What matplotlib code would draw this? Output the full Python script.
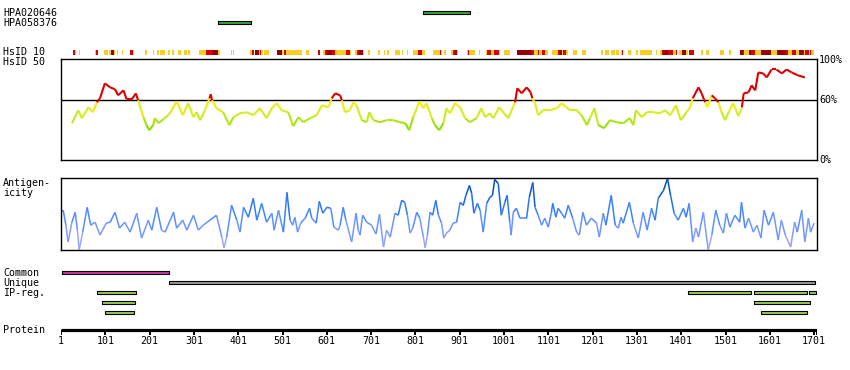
import numpy as np
import matplotlib
matplotlib.use("Agg")
import matplotlib.pyplot as plt
from matplotlib.collections import LineCollection
from matplotlib.colors import LinearSegmentedColormap

# ---- data (residue positions) ----
protein_len = 1707
tick_pos = list(range(1, 1702, 100))

antibodies = ["HPA020646", "HPA058376"]
antibody_spans = [(818, 924), (355, 430)]

common_span = (3, 244)
unique_span = (244, 1702)
ipreg_rows = [
    [(83, 171), (1417, 1558), (1566, 1684), (1690, 1706)],
    [(94, 167), (1566, 1691)],
    [(101, 165), (1580, 1684)],
]

# HsID 10 heat bar: yellow / red / dark red stretches
heat_yellow = [(32, 34), (42, 45), (78, 80), (84, 85), (97, 106), (110, 114), (121, 124),
               (127, 129), (138, 140), (164, 165), (191, 194), (209, 212), (217, 223),
               (225, 236), (242, 246), (252, 256), (264, 273), (279, 285), (288, 293),
               (313, 328), (356, 360), (385, 388), (390, 392), (427, 433), (448, 450),
               (452, 458), (459, 470), (499, 501), (510, 546), (554, 560), (592, 598),
               (619, 644), (653, 655), (665, 670), (683, 685), (694, 699), (717, 722),
               (730, 733), (737, 741), (756, 766), (771, 774), (781, 784), (796, 807),
               (816, 822), (841, 856), (859, 861), (865, 869), (882, 886), (896, 898),
               (917, 920), (923, 936), (944, 947), (961, 963), (972, 978), (989, 993),
               (1002, 1014), (1069, 1078), (1081, 1087), (1093, 1100), (1109, 1123),
               (1132, 1134), (1142, 1146), (1157, 1166), (1177, 1186), (1194, 1195),
               (1220, 1224), (1228, 1237), (1242, 1252), (1254, 1260), (1265, 1267),
               (1269, 1270), (1281, 1288), (1299, 1304), (1309, 1334), (1343, 1346),
               (1353, 1358), (1382, 1389), (1397, 1403), (1412, 1417), (1445, 1451),
               (1458, 1463), (1488, 1497), (1508, 1513), (1543, 1555), (1567, 1580),
               (1603, 1618), (1641, 1651), (1661, 1666), (1679, 1681), (1689, 1692),
               (1694, 1701)]
heat_red = [(27, 32), (80, 84), (157, 164), (328, 342), (433, 436), (450, 452), (504, 510),
            (580, 585), (598, 602), (613, 619), (644, 653), (670, 673), (807, 816),
            (856, 859), (886, 891), (920, 923), (963, 972), (978, 989), (1063, 1069),
            (1078, 1081), (1087, 1093), (1123, 1127), (1134, 1142), (1267, 1269),
            (1358, 1361), (1371, 1382), (1389, 1391), (1418, 1430), (1540, 1543),
            (1559, 1567), (1636, 1641), (1651, 1661), (1675, 1679), (1681, 1689),
            (1692, 1694)]
heat_dark = [(114, 121), (342, 356), (438, 448), (488, 499), (602, 613), (673, 683),
             (891, 896), (1031, 1063), (1127, 1132), (1361, 1371), (1403, 1412),
             (1534, 1540), (1555, 1559), (1580, 1603), (1618, 1636), (1666, 1675)]

# HsID 50 identity curve (%)
hsid_res = [26, 40, 48, 63, 73, 82, 89, 100, 112, 123, 130, 142, 149, 161, 170, 175, 187,
            194, 200, 209, 213, 221, 232, 243, 251, 262, 276, 288, 300, 307, 315, 326, 336,
            339, 342, 352, 367, 381, 390, 405, 420, 435, 450, 465, 477, 488, 499, 514, 525,
            537, 548, 563, 578, 590, 605, 612, 620, 631, 635, 642, 653, 661, 668, 680, 691,
            697, 706, 721, 736, 751, 766, 778, 787, 796, 804, 810, 819, 826, 838, 845, 855,
            864, 871, 879, 890, 902, 913, 924, 939, 950, 958, 969, 977, 990, 1001, 1011,
            1018, 1026, 1031, 1041, 1052, 1061, 1065, 1071, 1078, 1089, 1105, 1120, 1131,
            1142, 1150, 1165, 1176, 1188, 1195, 1205, 1214, 1227, 1240, 1255, 1270, 1285,
            1293, 1299, 1312, 1323, 1338, 1353, 1364, 1376, 1389, 1400, 1413, 1421, 1427,
            1440, 1447, 1455, 1460, 1470, 1477, 1485, 1492, 1500, 1508, 1518, 1525, 1530,
            1538, 1542, 1553, 1560, 1568, 1575, 1586, 1594, 1605, 1616, 1628, 1639, 1650,
            1665, 1680]
hsid_val = [37, 50, 42, 53, 48, 58, 62, 77, 73, 71, 65, 70, 61, 61, 67, 60, 43,
            35, 30, 35, 42, 37, 41, 45, 50, 59, 45, 57, 43, 48, 40, 50, 62,
            66, 60, 52, 48, 35, 43, 47, 48, 45, 52, 42, 52, 57, 50, 48, 34,
            43, 38, 42, 45, 55, 53, 62, 67, 65, 60, 48, 50, 58, 55, 40, 38,
            48, 40, 38, 40, 40, 38, 37, 30, 43, 52, 59, 52, 57, 42, 35, 30,
            37, 52, 47, 57, 53, 42, 38, 42, 52, 43, 47, 42, 53, 47, 42,
            50, 58, 72, 67, 73, 68, 62, 57, 45, 50, 50, 52, 57,
            53, 50, 50, 45, 35, 42, 52, 35, 32, 40, 38, 37, 42,
            35, 50, 43, 48, 48, 47, 50, 45, 55, 40, 48, 53, 62,
            73, 67, 58, 53, 65, 62, 58, 48, 40, 48, 57, 50, 44,
            53, 67, 68, 75, 70, 88, 87, 83, 91, 91, 87, 91, 88,
            85, 83]

# Antigenicity curve
antig_res = [2, 6, 12, 17, 25, 33, 38, 42, 50, 60, 68, 78, 89, 103, 112, 123, 133, 145, 157,
             172, 183, 198, 206, 217, 228, 236, 255, 262, 276, 285, 300, 311, 322, 337, 352,
             364, 369, 375, 386, 398, 405, 413, 424, 435, 443, 454, 465, 477, 482, 492, 503,
             511, 518, 524, 529, 535, 542, 552, 562, 567, 577, 584, 592, 601, 610, 617, 627,
             631, 638, 644, 657, 667, 672, 676, 682, 691, 702, 712, 720, 729, 736, 744, 755,
             762, 770, 777, 783, 789, 795, 804, 811, 819, 823, 828, 834, 840, 847, 853, 860,
             865, 871, 879, 886, 894, 902, 909, 915, 923, 928, 933, 941, 947, 954, 962, 969,
             975, 980, 988, 995, 1003, 1008, 1014, 1017, 1022, 1029, 1037, 1052, 1058, 1066,
             1071, 1078, 1086, 1093, 1101, 1108, 1111, 1118, 1123, 1131, 1138, 1146, 1156,
             1165, 1171, 1179, 1187, 1198, 1210, 1216, 1225, 1231, 1243, 1252, 1259, 1265,
             1270, 1284, 1293, 1304, 1315, 1324, 1334, 1342, 1349, 1361, 1370, 1377, 1385,
             1394, 1406, 1412, 1419, 1427, 1434, 1440, 1451, 1462, 1470, 1479, 1488, 1496,
             1503, 1511, 1522, 1533, 1537, 1545, 1553, 1564, 1572, 1581, 1588, 1598, 1609,
             1620, 1627, 1636, 1648, 1657, 1663, 1673, 1680, 1688, 1693, 1701]
antig_val = [38, 40, 25, 8, 27, 38, 20, 0, 18, 43, 25, 28, 15, 27, 28, 38, 22, 28, 18,
             37, 12, 30, 20, 43, 20, 18, 38, 22, 30, 20, 35, 20, 25, 30, 35,
             13, 2, 13, 45, 30, 18, 43, 33, 52, 30, 47, 28, 37, 20, 40, 18,
             58, 30, 25, 33, 18, 27, 32, 42, 32, 27, 49, 37, 43, 42, 23, 20,
             25, 43, 30, 8, 37, 20, 15, 35, 28, 25, 16, 36, 3, 20, 13, 37,
             35, 50, 48, 35, 17, 22, 38, 32, 13, 2, 15, 38, 35, 50, 35, 27,
             12, 17, 20, 27, 28, 48, 45, 55, 65, 57, 37, 47, 40, 18, 47, 53,
             55, 71, 67, 35, 48, 55, 28, 15, 38, 42, 32, 32, 53, 68,
             43, 35, 25, 32, 23, 38, 47, 33, 42, 37, 32, 45, 32,
             18, 15, 38, 25, 32, 27, 13, 37, 25, 55, 25, 22, 33,
             27, 48, 27, 12, 38, 20, 42, 30, 52, 60, 72, 55, 37,
             30, 42, 33, 47, 8, 22, 13, 38, 0, 15, 40, 25, 17,
             37, 23, 35, 28, 48, 22, 32, 18, 25, 12, 40, 25, 38,
             10, 30, 15, 3, 28, 18, 40, 8, 32, 18, 27]

# ---- layout helpers (pixels) ----
W, H = 850, 370
fig = plt.figure(figsize=(8.5, 3.7), dpi=100)
mono = "DejaVu Sans Mono"
fs = 7.2
xlim = (1, 1707.5)


def px_axes(x0, y0, x1, y1):
    return fig.add_axes([x0 / W, 1 - y1 / H, (x1 - x0) / W, (y1 - y0) / H])


def label(x, y, s):
    fig.text(x / W, 1 - y / H, s, family=mono, fontsize=fs, va="center", ha="left")


# overlay axes: residues on x, pixel rows on y
ax = px_axes(61, 0, 817, 370)
ax.set_xlim(*xlim)
ax.set_ylim(370, 0)
ax.axis("off")

# antibody bars
for row, (s, e) in enumerate(antibody_spans):
    ax.broken_barh([(s, e - s)], (10.5 + 10 * row, 3.2), facecolor="#33aa33",
                   edgecolor="black", linewidth=0.8)

# HsID 10 heat bar
for spans, col in [(heat_yellow, "#ffcc22"), (heat_red, "#dd0000"), (heat_dark, "#990000")]:
    ax.broken_barh([(s, e - s) for s, e in spans], (50, 5), facecolor=col, edgecolor="none")

# common / unique / IP-reg
ax.broken_barh([(common_span[0], common_span[1] - common_span[0])], (271, 3.2),
               facecolor="#cc33aa", edgecolor="black", linewidth=0.8)
ax.broken_barh([(unique_span[0], unique_span[1] - unique_span[0])], (281, 3.2),
               facecolor="#999999", edgecolor="black", linewidth=0.8)
for i, row in enumerate(ipreg_rows):
    ax.broken_barh([(s, e - s) for s, e in row], (291 + 10 * i, 3.2),
                   facecolor="#99cc55", edgecolor="black", linewidth=0.8)

# protein axis
ax.plot([1, protein_len], [330, 330], color="black", lw=2.3, solid_capstyle="butt")
ax.vlines(tick_pos + [protein_len], 330, 334.5, color="black", lw=1.4)
for t in tick_pos:
    ax.text(t, 341.5, str(t), family=mono, fontsize=fs, ha="center", va="center")

# HsID 50 panel
ax_hs = px_axes(61, 58.5, 817, 160)
ax_hs.set_xlim(*xlim)
ax_hs.set_ylim(0, 102)
ax_hs.set_xticks([])
ax_hs.set_yticks([])
for sp in ax_hs.spines.values():
    sp.set_linewidth(1.0)
ax_hs.axhline(60, color="black", lw=1.0)

hs_cmap = LinearSegmentedColormap.from_list("hs", ["#88dd00", "#ccee22", "#ffee00"])
hx = np.array(hsid_res, float)
hy = np.array(hsid_val, float)
segs = np.stack([np.column_stack([hx[:-1], hy[:-1]]), np.column_stack([hx[1:], hy[1:]])], axis=1)
mid = (hy[:-1] + hy[1:]) / 2
cols = [("#dd0000" if m >= 60 else hs_cmap(np.clip((m - 32) / 27, 0, 1))) for m in mid]
ax_hs.add_collection(LineCollection(segs, colors=cols, linewidths=1.5, capstyle="butt"))

for v, s in [(100, "100%"), (60, "60%"), (0, "0%")]:
    ax_hs.text(1.003, v, s, transform=ax_hs.get_yaxis_transform(), family=mono,
               fontsize=fs, ha="left", va="center")

# antigenicity panel
ax_ag = px_axes(61, 178.5, 817, 250)
ax_ag.set_xlim(*xlim)
ax_ag.set_ylim(0, 72)
ax_ag.set_xticks([])
ax_ag.set_yticks([])
for sp in ax_ag.spines.values():
    sp.set_linewidth(1.0)

ag_cmap = LinearSegmentedColormap.from_list(
    "ag", [(0, "#bbaaff"), (0.3, "#7799ff"), (0.5, "#4488ff"), (0.7, "#1166ee"), (1, "#0044aa")])
ax_ = np.array(antig_res, float)
ay = np.array(antig_val, float)
segs = np.stack([np.column_stack([ax_[:-1], ay[:-1]]), np.column_stack([ax_[1:], ay[1:]])], axis=1)
mid = (ay[:-1] + ay[1:]) / 2
ax_ag.add_collection(LineCollection(segs, colors=ag_cmap(np.clip(mid / 72, 0, 1)),
                                    linewidths=1.1))

# left labels
label(3, 12.5, "HPA020646")
label(3, 22.5, "HPA058376")
label(3, 52.3, "HsID 10")
label(3, 62.3, "HsID 50")
label(3, 183.3, "Antigen-")
label(3, 193.3, "icity")
label(3, 272.5, "Common")
label(3, 282.5, "Unique")
label(3, 292.5, "IP-reg.")
label(3, 330, "Protein")

fig.savefig("out.png", dpi=100, facecolor="white")
